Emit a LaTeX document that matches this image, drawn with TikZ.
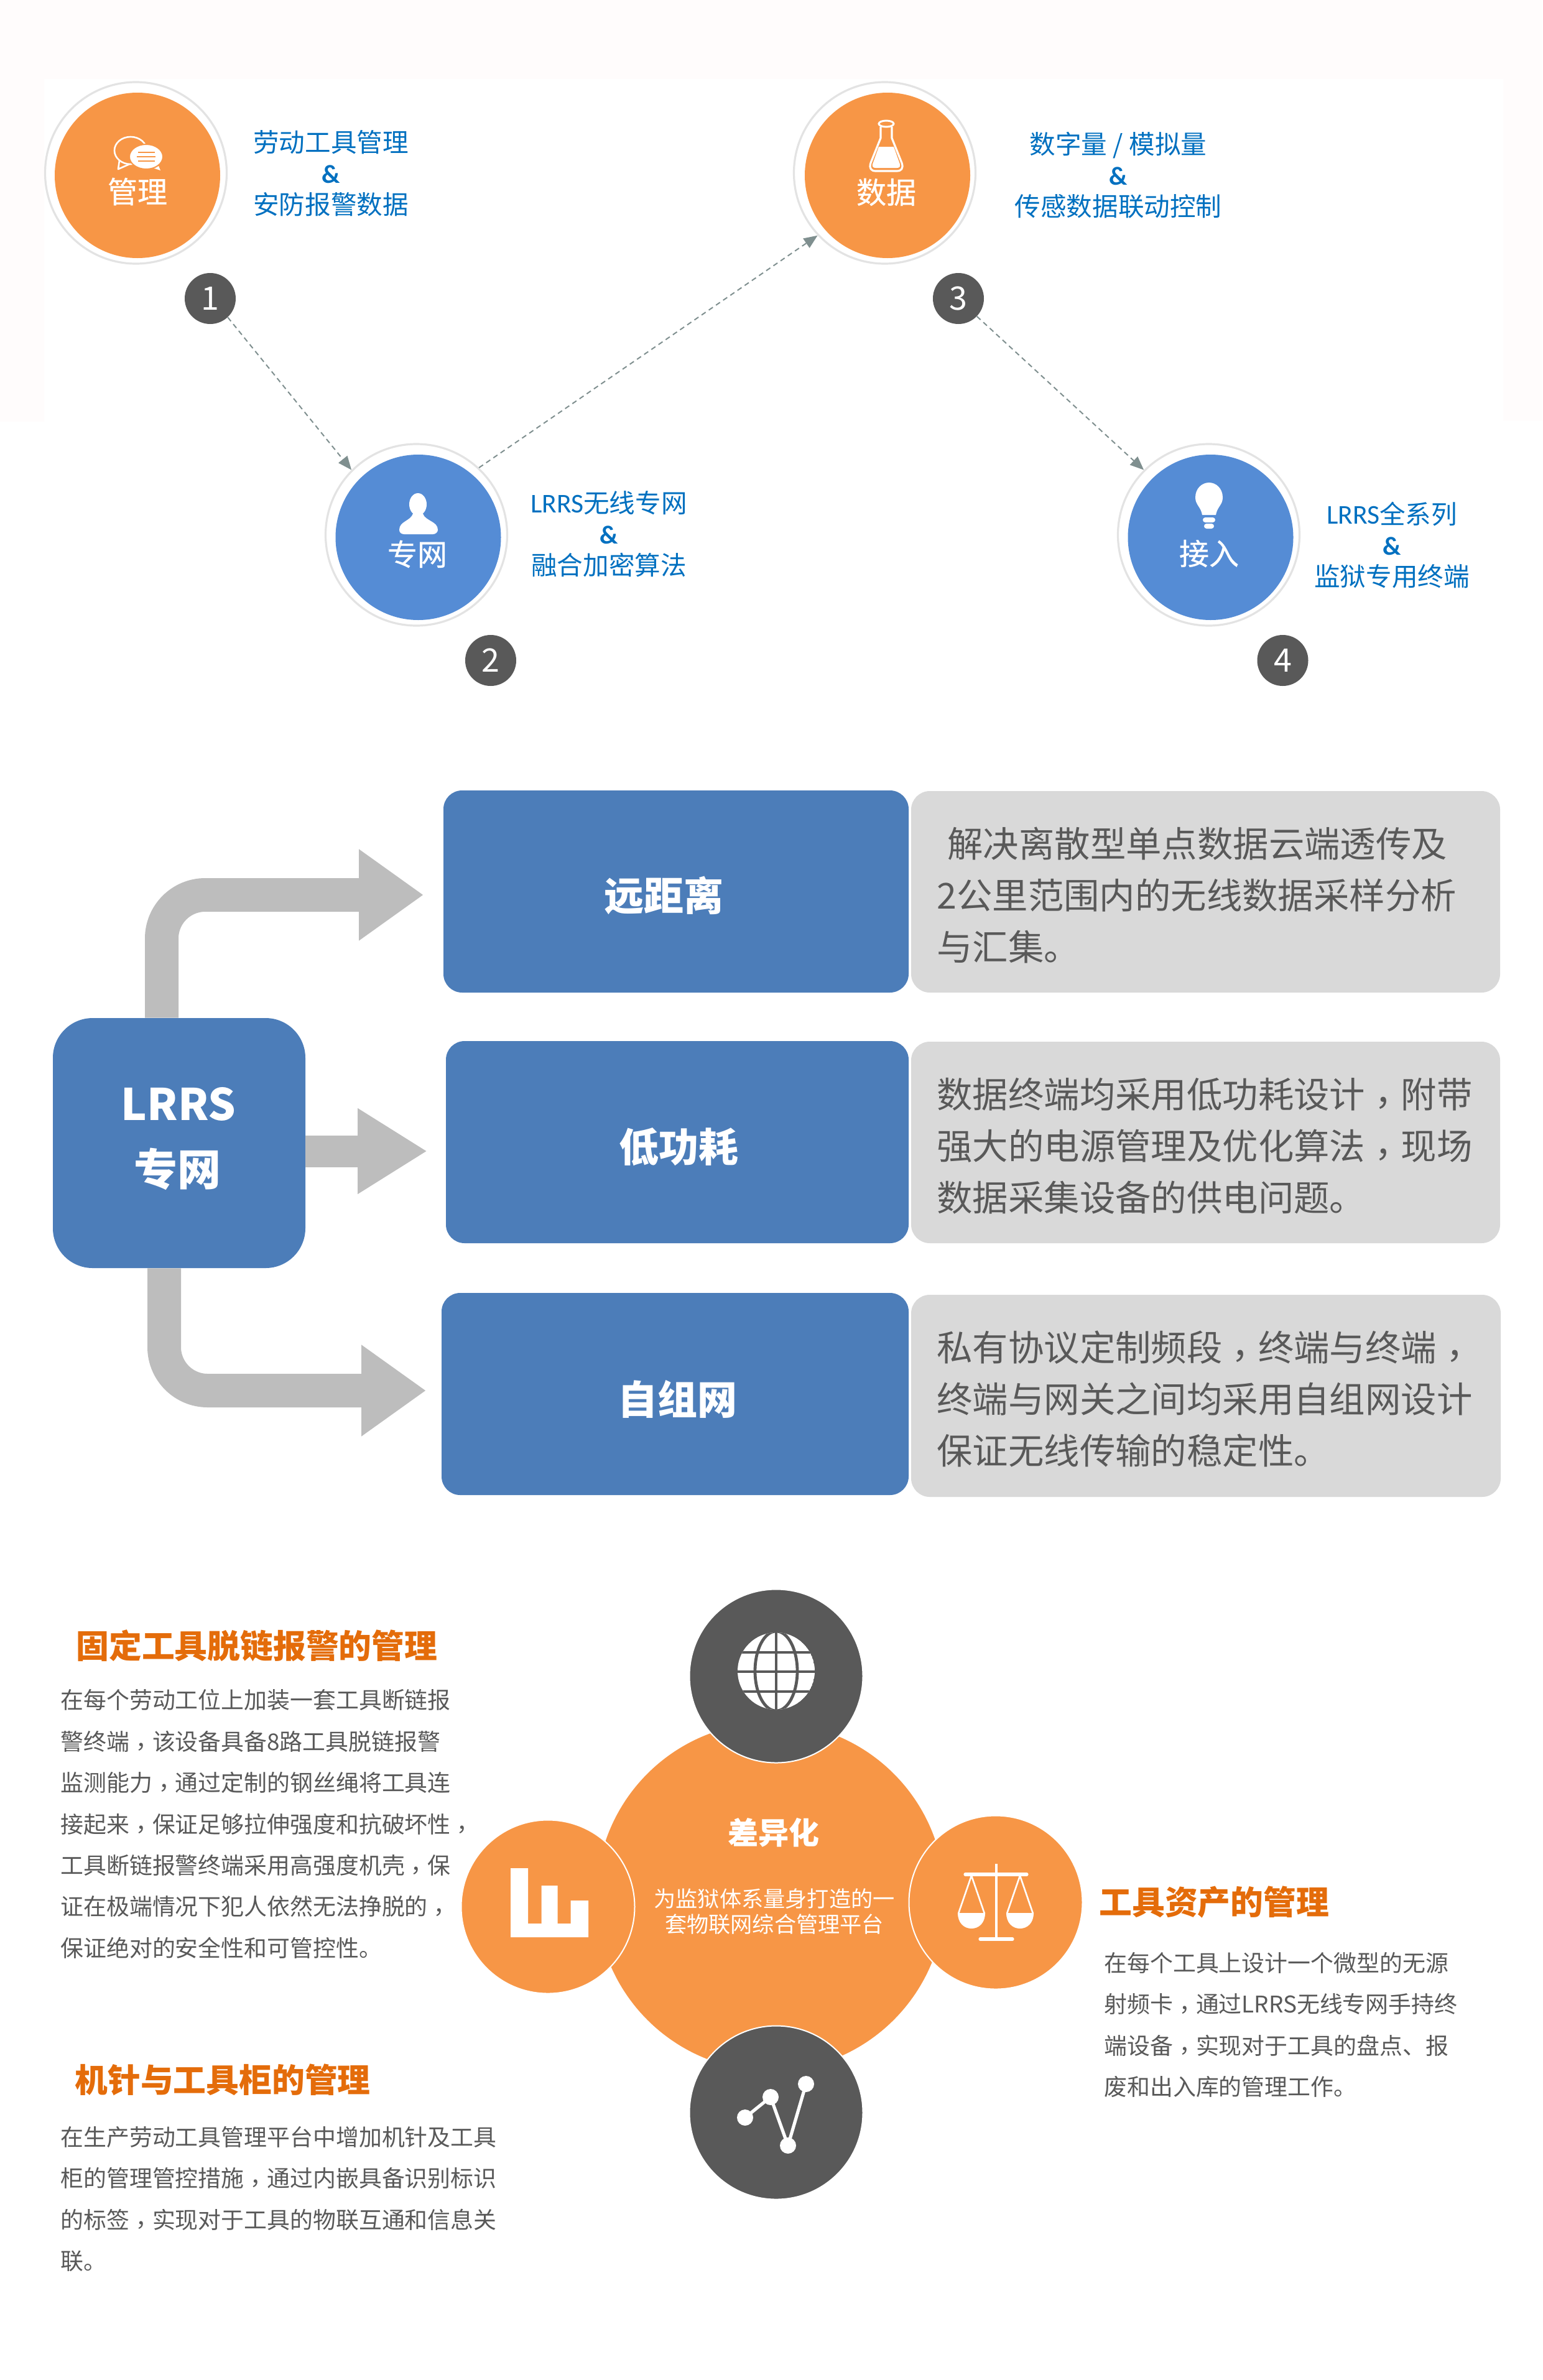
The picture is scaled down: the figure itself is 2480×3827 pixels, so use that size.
\documentclass[tikz,border=0pt]{standalone}
\usepackage{fontspec}
\setmainfont{Noto Sans CJK SC}
\newfontfamily\tcfont{Noto Sans CJK TC}
\newfontfamily\medf{Noto Sans CJK SC}[FakeBold=0.6]
\newfontfamily\latinf{Carlito}
\newcommand{\cma}{\raisebox{-0.22em}{\tcfont ，}}
\newcommand{\lrrs}{{\latinf\fontsize{21.8pt}{25pt}\selectfont LRRS}}
\newcommand{\amp}{{\latinf\bfseries\&}}
\usetikzlibrary{arrows.meta,calc}
\definecolor{orng}{HTML}{F79646}
\definecolor{cblue}{HTML}{558CD5}
\definecolor{bblue}{HTML}{4C7DB9}
\definecolor{gbox}{HTML}{D9D9D9}
\definecolor{dk}{HTML}{595959}
\definecolor{lblue}{HTML}{0070C0}
\definecolor{ttl}{HTML}{E46C0A}
\definecolor{arrg}{HTML}{BDBDBD}
\definecolor{dashc}{HTML}{7F8F8F}
\definecolor{band}{HTML}{FFFCFC}
\newcommand{\fs}[2]{\fontsize{#1pt}{#2pt}\selectfont}
\tikzset{
  ring/.style={circle,draw=black!11,line width=1.6pt,fill=white,minimum size=146pt,inner sep=0pt},
  core/.style={circle,fill=#1,minimum size=133pt,inner sep=0pt},
  badge/.style={circle,fill=dk,minimum size=41pt,inner sep=0pt,text=white,font=\fs{26}{30}},
  ctext/.style={text=white,font=\medf\fs{24}{28},inner sep=0pt},
  lbl/.style={text=lblue,align=center,font=\fs{20.8}{25},inner sep=0pt},
  flow/.style={draw=dashc,line width=1pt,dash pattern=on 4pt off 3pt,-{Triangle[length=11pt,width=9pt]}},
  mainbox/.style={rounded corners=15pt,fill=bblue,inner sep=0pt},
  mtext/.style={text=white,font=\bfseries\fs{32}{38},inner sep=0pt},
  graybox/.style={rounded corners=15pt,fill=gbox,inner sep=0pt},
  graytext/.style={text=dk,align=left,font=\fs{28.7}{41.5},inner sep=0pt,anchor=west},
  fat/.style={draw=arrg,line width=27pt,rounded corners=35pt},
  ttlstyle/.style={text=ttl,font=\bfseries\fs{26.4}{30},inner sep=0pt,anchor=west},
  body/.style={text=dk,align=left,font=\fs{18.45}{33.2},inner sep=0pt,anchor=west},
  sat/.style={circle,fill=#1,draw=white,line width=1pt,minimum size=139.5pt,inner sep=0pt},
}
\begin{document}
\begin{tikzpicture}[x=0.5pt,y=-0.5pt]
\useasboundingbox (0,0) rectangle (2480,3827);
\fill[white] (0,0) rectangle (2480,3827);
\fill[band] (0,0) -- (2480,0) -- (2480,676) -- (2417,676) -- (2417,127) -- (71,127) -- (71,678) -- (0,678) -- cycle;

% ---- top: four circles
\node[ring] (r1) at (218.5,278) {};
\node[core=orng] (c1) at (221,282) {};
\node[ring] (r2) at (669.5,860) {};
\node[core=cblue] (c2) at (672.5,864) {};
\node[ring] (r3) at (1422.5,278) {};
\node[core=orng] (c3) at (1427,282) {};
\node[ring] (r4) at (1943.5,860) {};
\node[core=cblue] (c4) at (1946.5,864) {};
\node[badge] (b1) at (338,480) {1};
\node[badge] (b2) at (789,1062) {2};
\node[badge] (b3) at (1541,480) {3};
\node[badge] (b4) at (2062.5,1062) {4};
\draw[flow] (b1.-47) -- (r2.135);
\draw[flow] (r2.47) -- (r3.223);
\draw[flow] (b3.-44) -- (r4.135);

\node[ctext] (t1) at (221,308) {管理};
\node[ctext] (t2) at (671,891) {专网};
\node[ctext] (t3) at (1425,309) {数据};
\node[ctext] (t4) at (1944,890) {接入};

\node[lbl] (l1) at (532,279) {劳动工具管理\\ \amp\\ 安防报警数据};
\node[lbl] (l2) at (979,859) {\lrrs 无线专网\\ \amp\\ 融合加密算法};
\node[lbl] (l3) at (1798,282) {数字量 / 模拟量\\ \amp\\ 传感数据联动控制};
\node[lbl] (l4) at (2238,877) {\lrrs 全系列\\ \amp\\ 监狱专用终端};

% chat icon
\draw[white,line width=1.3pt] (210,242) ellipse [x radius=26, y radius=22];
\draw[white,line width=1.3pt,line join=round] (192,258) -- (190,272) -- (208,264);
\fill[white] (253,262) -- (258,274) -- (240,268) -- cycle;
\filldraw[fill=white,draw=orng,line width=1pt] (235,252) ellipse [x radius=27, y radius=20];
\draw[orng,line width=1pt] (222,245) -- (249,245) (220,252) -- (250,252) (222,259) -- (249,259);
% person icon
\fill[white] (672,811) ellipse [x radius=14, y radius=18];
\fill[white] (642,852) .. controls (642,838) and (660,838) .. (664,826) -- (680,826) .. controls (684,838) and (704,838) .. (704,852) .. controls (704,856) and (700,859) .. (696,859) -- (650,859) .. controls (645,859) and (642,856) .. (642,852) -- cycle;
% flask icon
\draw[white,line width=1.5pt] (1425,199) ellipse [x radius=12, y radius=5];
\draw[white,line width=1.6pt,line join=round] (1416,204) -- (1416,222) -- (1400,262) .. controls (1397,271) and (1401,275) .. (1408,275) -- (1442,275) .. controls (1449,275) and (1453,271) .. (1450,262) -- (1434,222) -- (1434,204);
\fill[white] (1413,236) -- (1437,236) -- (1447,264) .. controls (1448,268) and (1446,270) .. (1442,270) -- (1408,270) .. controls (1404,270) and (1402,268) .. (1403,264) -- cycle;
% bulb icon
\fill[white] (1933,828) .. controls (1931,815) and (1922,812) .. (1922,800) .. controls (1922,785) and (1933,776) .. (1944,776) .. controls (1955,776) and (1966,785) .. (1966,800) .. controls (1966,812) and (1957,815) .. (1955,828) -- cycle;
\fill[white,rounded corners=2pt] (1934,832) rectangle (1954,840);
\fill[white,rounded corners=2pt] (1936,842) rectangle (1952,850);

% ---- middle: LRRS blocks
\coordinate (ta) at (681,1439);
\coordinate (tb) at (687,1851);
\coordinate (tc) at (685,2236);
\node[graybox,minimum width=473.5pt,minimum height=162pt] (g1) at (1938.5,1434) {};
\node[graybox,minimum width=473.5pt,minimum height=162pt] (g2) at (1938.5,1837) {};
\node[graybox,minimum width=474pt,minimum height=162.5pt] (g3) at (1939,2244.5) {};
\node[mainbox,minimum width=374pt,minimum height=162.5pt] (m1) at (1087,1433.5) {};
\node[mainbox,minimum width=372pt,minimum height=162.5pt] (m2) at (1089,1836.5) {};
\node[mainbox,minimum width=375.5pt,minimum height=162.5pt] (m3) at (1085.5,2241.5) {};
\node[mtext] (mt1) at (1067,1440) {远距离};
\node[mtext] (mt2) at (1091,1844) {低功耗};
\node[mtext] (mt3) at (1089,2250) {自组网};
\node[graytext] (gt1a) at (1523,1357) {解决离散型单点数据云端透传及};
\node[graytext] (gt1) at (1506,1481.5) {2公里范围内的无线数据采样分析\\与汇集。};
\node[graytext] (gt2) at (1506,1843) {数据终端均采用低功耗设计\cma 附带\\强大的电源管理及优化算法\cma 现场\\数据采集设备的供电问题。};
\node[graytext] (gt3) at (1506,2250) {私有协议定制频段\cma 终端与终端\cma\\终端与网关之间均采用自组网设计\\保证无线传输的稳定性。};
\node[rounded corners=32pt,fill=bblue,inner sep=0pt,minimum width=203pt,minimum height=201pt] (hub) at (288,1838) {};
\draw[fat,-{Triangle[length=52pt,width=70pt]}] ([xshift=-14pt]hub.north) |- (ta);
\draw[arrg,line width=25.5pt,-{Triangle[length=56pt,width=65pt]}] (hub.east |- tb) -- (tb);
\draw[fat,-{Triangle[length=52pt,width=70pt]}] ([xshift=-12pt]hub.south) |- (tc);
\node[text=white,font=\bfseries\fs{35}{40},inner sep=0pt] (ht1) at (287,1775) {LRRS};
\node[text=white,font=\bfseries\fs{35}{40},inner sep=0pt] (ht2) at (285,1880) {专网};

% ---- bottom: differentiation wheel
\node[circle,fill=orng,minimum size=280pt,inner sep=0pt] (hubc) at (1239,3050) {};
\node[sat=dk] (st) at (1248,2695) {};
\node[sat=dk] (sb) at (1248,3397) {};
\node[sat=orng] (sl) at (881,3066) {};
\node[sat=orng] (sr) at (1601,3059) {};
\node[text=white,font=\bfseries\fs{24.5}{28},inner sep=0pt] (d1) at (1244,2947) {差异化};
\node[text=white,align=center,font=\fs{17.6}{20.5},inner sep=0pt] (d2) at (1245,3074) {为监狱体系量身打造的一\\套物联网综合管理平台};

% globe
\begin{scope}
\clip (1248,2687) circle [radius=62];
\fill[white] (1248,2687) circle [radius=62];
\draw[dk,line width=2.4pt] (1248,2687) ellipse [x radius=34, y radius=64];
\draw[dk,line width=2.4pt] (1248,2620) -- (1248,2750);
\draw[dk,line width=2.4pt] (1180,2657) -- (1316,2657) (1180,2688) -- (1316,2688) (1180,2720) -- (1316,2720);
\end{scope}
% bars
\fill[white] (821,3004) -- (849,3004) -- (849,3093) -- (870.5,3093) -- (870.5,3032) -- (896.5,3032) -- (896.5,3093) -- (917.5,3093) -- (917.5,3056) -- (946,3056) -- (946,3115) -- (821,3115) -- cycle;
% scales
\draw[white,line width=2.4pt] (1602,2997) -- (1602,3117);
\draw[white,line width=2.6pt,line cap=round] (1552,3014) -- (1651,3014);
\draw[white,line width=2.6pt,line cap=round] (1576,3118) -- (1628,3118);
\draw[white,line width=1.3pt,line join=round] (1541,3077) -- (1562,3016) -- (1583,3077);
\draw[white,line width=1.3pt,line join=round] (1619,3077) -- (1640,3016) -- (1661,3077);
\fill[white] (1540,3076) -- (1584,3076) .. controls (1584,3092) and (1574,3101) .. (1562,3101) .. controls (1550,3101) and (1540,3092) .. (1540,3076) -- cycle;
\fill[white] (1618,3076) -- (1662,3076) .. controls (1662,3092) and (1652,3101) .. (1640,3101) .. controls (1628,3101) and (1618,3092) .. (1618,3076) -- cycle;
% line chart
\draw[white,line width=2.6pt,line join=round] (1198,3405) -- (1239,3372) -- (1267,3450) -- (1296,3351);
\fill[white] (1198,3405) circle [radius=13] (1239,3372) circle [radius=13] (1267,3450) circle [radius=13] (1296,3351) circle [radius=13];

% texts
\node[ttlstyle] (tt1) at (122,2646) {固定工具脱链报警的管理};
\node[body] (bt1) at (97,2933) {在每个劳动工位上加装一套工具断链报\\警终端\cma 该设备具备8路工具脱链报警\\监测能力\cma 通过定制的钢丝绳将工具连\\接起来\cma 保证足够拉伸强度和抗破坏性\cma\\工具断链报警终端采用高强度机壳\cma 保\\证在极端情况下犯人依然无法挣脱的\cma\\保证绝对的安全性和可管控性。};
\node[ttlstyle] (tt2) at (120,3344) {机针与工具柜的管理};
\node[body] (bt2) at (97,3536) {在生产劳动工具管理平台中增加机针及工具\\柜的管理管控措施\cma 通过内嵌具备识别标识\\的标签\cma 实现对于工具的物联互通和信息关\\联。};
\node[ttlstyle] (tt3) at (1767,3059) {工具资产的管理};
\node[body] (bt3) at (1775,3256) {在每个工具上设计一个微型的无源\\射频卡\cma 通过LRRS无线专网手持终\\端设备\cma 实现对于工具的盘点、报\\废和出入库的管理工作。};
\end{tikzpicture}
\end{document}
